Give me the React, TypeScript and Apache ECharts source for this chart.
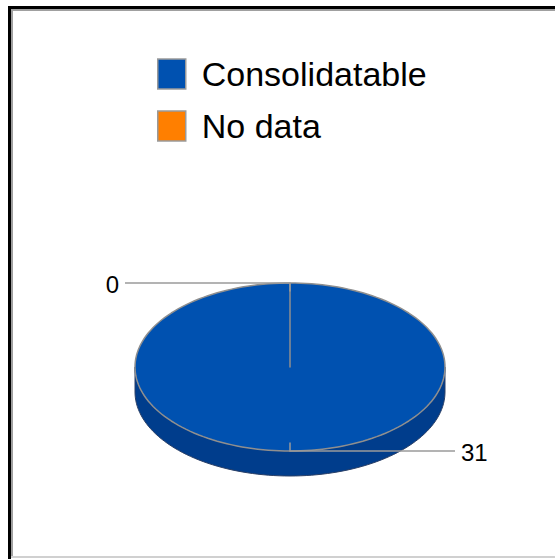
import React, { useEffect, useRef } from 'react';
import * as echarts from 'echarts';

// Slice data
const categories = ['Consolidatable', 'No data'];
const values = [31, 0];
const topColors = ['#0051b0', '#ff7f00'];
const sideColors = ['#003d8c', '#b35a00'];

// Pie geometry (top face ellipse and wall depth)
const CX = 290;
const CY = 367;
const RX = 155;
const RY = 84;
const DEPTH = 25;

const total = values.reduce((a, b) => a + b, 0);

const pt = (deg: number, r = 1, dy = 0): number[] => {
  const rad = (deg * Math.PI) / 180;
  return [CX + RX * r * Math.sin(rad), CY - RY * r * Math.cos(rad) + dy];
};

const arcPoints = (a0: number, a1: number, dy = 0): number[][] => {
  const n = Math.max(2, Math.ceil(Math.abs(a1 - a0) / 2));
  const pts: number[][] = [];
  for (let i = 0; i <= n; i++) pts.push(pt(a0 + ((a1 - a0) * i) / n, 1, dy));
  return pts;
};

const makeRenderItem = (idx: number) => (params: any, api: any) => {
  const v = api.value(0) as number;
  const before = values.slice(0, idx).reduce((a, b) => a + b, 0);
  const a0 = (before / total) * 360;
  const a1 = ((before + v) / total) * 360;
  const children: any[] = [];

  if (v > 0) {
    // top face
    children.push({
      type: 'polygon',
      z2: 5,
      shape: { points: [[CX, CY], ...arcPoints(a0, a1)] },
      style: { fill: topColors[idx], stroke: '#8f8f8f', lineWidth: 1.5, lineJoin: 'round' },
    });
    // visible front wall
    const lo = Math.max(a0, 90);
    const hi = Math.min(a1, 270);
    if (hi > lo) {
      const upper = arcPoints(lo, hi);
      const lower = arcPoints(hi, lo, DEPTH);
      children.push({
        type: 'polygon',
        z2: 1,
        shape: { points: [...upper, ...lower] },
        style: { fill: sideColors[idx], stroke: '#2a3f66', lineWidth: 1 },
      });
    }
  }

  // leader line and value label
  const mid = (a0 + a1) / 2;
  const m = ((mid % 360) + 360) % 360;
  const right = m > 0 && m <= 180;
  const inner = pt(mid, 0.9);
  const edge = pt(mid);
  const endX = right ? CX + RX + 10 : CX - RX - 10;
  children.push({
    type: 'polyline',
    z2: 10,
    shape: { points: [inner, edge, [endX, edge[1]]] },
    style: { fill: null, stroke: '#9a9a9a', lineWidth: 1.5 },
  });
  children.push({
    type: 'text',
    z2: 10,
    style: {
      text: String(v),
      x: right ? endX + 6 : endX - 6,
      y: edge[1] + 1,
      align: right ? 'left' : 'right',
      verticalAlign: 'middle',
      textAlign: right ? 'left' : 'right',
      textVerticalAlign: 'middle',
      fill: '#000',
      font: '24px "Liberation Sans", Arial, sans-serif',
    },
  });

  return { type: 'group', children };
};

export default function App() {
  const ref = useRef<HTMLDivElement>(null);

  useEffect(() => {
    if (!ref.current) return;
    const chart = echarts.init(ref.current, undefined, { renderer: 'svg' });
    chart.setOption({
      animation: false,
      backgroundColor: '#ffffff',
      legend: {
        data: categories,
        orient: 'vertical',
        left: 157,
        top: 57,
        padding: 0,
        icon: 'rect',
        itemWidth: 28,
        itemHeight: 30,
        itemGap: 18,
        selectedMode: false,
        itemStyle: { borderColor: '#9a9a9a', borderWidth: 1.5 },
        textStyle: {
          fontSize: 34,
          lineHeight: 30,
          color: '#000',
          fontFamily: '"Liberation Sans", Arial, sans-serif',
          padding: [0, 0, 0, 11],
        },
      },
      graphic: [
        // inset frame
        { type: 'rect', silent: true, shape: { x: 8, y: 6, width: 3, height: 553 }, style: { fill: '#000' } },
        { type: 'rect', silent: true, shape: { x: 8, y: 6, width: 547, height: 3 }, style: { fill: '#000' } },
        { type: 'rect', silent: true, shape: { x: 11, y: 9, width: 2, height: 548 }, style: { fill: '#a0a0a0' } },
        { type: 'rect', silent: true, shape: { x: 11, y: 9, width: 544, height: 2 }, style: { fill: '#a0a0a0' } },
        { type: 'rect', silent: true, shape: { x: 11, y: 556, width: 544, height: 2 }, style: { fill: '#d0d0d0' } },
      ],
      series: categories.map((name, i) => ({
        type: 'custom',
        name,
        coordinateSystem: 'none',
        silent: true,
        itemStyle: { color: topColors[i] },
        renderItem: makeRenderItem(i),
        data: [[values[i]]],
      })),
    });
    return () => chart.dispose();
  }, []);

  return (
    <div
      ref={ref}
      style={{ position: 'fixed', left: 0, top: 0, width: 555, height: 559 }}
    />
  );
}
